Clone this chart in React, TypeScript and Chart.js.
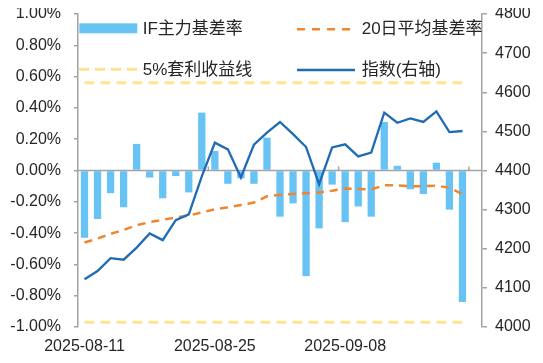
import React, { useEffect, useRef } from 'react';
import { Chart, registerables } from 'chart.js';

Chart.register(...registerables);

// ---- data ----
const dates = [
  '2025-08-11', '2025-08-12', '2025-08-13', '2025-08-14', '2025-08-15',
  '2025-08-18', '2025-08-19', '2025-08-20', '2025-08-21', '2025-08-22',
  '2025-08-25', '2025-08-26', '2025-08-27', '2025-08-28', '2025-08-29',
  '2025-09-01', '2025-09-02', '2025-09-03', '2025-09-04', '2025-09-05',
  '2025-09-08', '2025-09-09', '2025-09-10', '2025-09-11', '2025-09-12',
  '2025-09-15', '2025-09-16', '2025-09-17', '2025-09-18', '2025-09-19',
  '2025-09-22',
];

// IF主力基差率 (%)
const basisRate = [
  -0.43, -0.31, -0.145, -0.235, 0.17, -0.045, -0.178, -0.035, -0.14, 0.37,
  0.125, -0.085, -0.05, -0.085, 0.21, -0.295, -0.21, -0.675, -0.37, -0.09,
  -0.33, -0.23, -0.295, 0.31, 0.03, -0.12, -0.15, 0.05, -0.25, -0.84,
  null,
];

// 20日平均基差率 (%)
const avgBasis20 = [
  -0.46, -0.435, -0.405, -0.38, -0.35, -0.33, -0.315, -0.3, -0.288, -0.268,
  -0.248, -0.235, -0.22, -0.205, -0.165, -0.155, -0.15, -0.145, -0.14, -0.13,
  -0.115, -0.118, -0.12, -0.095, -0.095, -0.1, -0.1, -0.097, -0.11, -0.15,
  null,
];

// 指数(右轴)
const indexLevel = [
  4122, 4143, 4176, 4172, 4203, 4239, 4222, 4273, 4288, 4385,
  4471, 4454, 4382, 4466, 4497, 4524, 4493, 4460, 4365, 4459,
  4467, 4436, 4446, 4548, 4522, 4533, 4524, 4551, 4498, 4501,
  null,
];

// 5%套利收益线 (%)
const arbUpper = 0.56;
const arbLower = -0.97;

const leftMin = -1;
const leftMax = 1;
const leftStep = 0.2;
const rightMin = 4000;
const rightMax = 4800;
const rightStep = 100;
const labelEvery = 10;

const seriesNames = ['IF主力基差率', '20日平均基差率', '5%套利收益线', '指数(右轴)'];

// ---- styles ----
const FONT = "'Liberation Sans', 'Noto Sans CJK SC', Arial, sans-serif";
const TEXT = '#262626';
const AXIS = '#A3A3A3';
const BAR = '#68C3F5';
const ORANGE = '#EE8630';
const YELLOW = '#FFE391';
const BLUE = '#1F6BB4';

const dataCount = basisRate.filter((v) => v !== null).length;
const firstDate = dates[0];
const lastDataDate = dates[dataCount - 1];

const zeroLinePlugin = {
  id: 'zeroLine',
  beforeDatasetsDraw(chart: any) {
    const { ctx, chartArea, scales } = chart;
    const y0 = scales.y.getPixelForValue(0);
    const xs = scales.x;
    const cw = xs.getPixelForValue(1) - xs.getPixelForValue(0);
    ctx.save();
    ctx.strokeStyle = AXIS;
    ctx.lineWidth = 1.5;
    ctx.beginPath();
    ctx.moveTo(chartArea.left, y0);
    ctx.lineTo(chartArea.right, y0);
    for (let i = labelEvery; i < dates.length; i += labelEvery) {
      const bx = xs.getPixelForValue(i) - cw / 2;
      ctx.moveTo(bx, y0);
      ctx.lineTo(bx, y0 - 4);
    }
    ctx.stroke();
    ctx.restore();
  },
};

const legendPlugin = {
  id: 'cornerLegend',
  afterDraw(chart: any) {
    const { ctx, chartArea } = chart;
    const L = chartArea.left;
    const T = chartArea.top;
    ctx.save();
    ctx.font = `17px ${FONT}`;
    ctx.fillStyle = TEXT;
    ctx.textBaseline = 'middle';
    ctx.textAlign = 'left';

    // item 1: bar
    ctx.fillStyle = BAR;
    ctx.fillRect(L + 1.3, T + 9.3, 58, 10);
    ctx.fillStyle = TEXT;
    ctx.fillText(seriesNames[0], L + 64.7, T + 15.8);

    // item 2: orange dashed
    ctx.strokeStyle = ORANGE;
    ctx.lineWidth = 2.5;
    ctx.setLineDash([8, 7]);
    ctx.beginPath();
    ctx.moveTo(L + 219, T + 15.3);
    ctx.lineTo(L + 272, T + 15.3);
    ctx.stroke();
    ctx.fillText(seriesNames[1], L + 283.7, T + 15.8);

    // item 3: yellow dashed
    ctx.strokeStyle = YELLOW;
    ctx.lineWidth = 3;
    ctx.setLineDash([10, 6]);
    ctx.beginPath();
    ctx.moveTo(L + 1, T + 55.3);
    ctx.lineTo(L + 59, T + 55.3);
    ctx.stroke();
    ctx.fillText(seriesNames[2], L + 64.7, T + 56.3);

    // item 4: blue solid
    ctx.strokeStyle = BLUE;
    ctx.lineWidth = 2.5;
    ctx.setLineDash([]);
    ctx.beginPath();
    ctx.moveTo(L + 219, T + 56);
    ctx.lineTo(L + 277, T + 56);
    ctx.stroke();
    ctx.fillText(seriesNames[3], L + 283.7, T + 56.3);
    ctx.restore();
  },
};

export default function App() {
  const canvasRef = useRef<HTMLCanvasElement | null>(null);

  useEffect(() => {
    if (!canvasRef.current) return;
    Chart.defaults.font.family = FONT;
    Chart.defaults.font.size = 16;
    Chart.defaults.color = TEXT;

    const chart = new Chart(canvasRef.current, {
      type: 'bar',
      data: {
        labels: dates,
        datasets: [
          {
            type: 'line',
            label: seriesNames[3],
            data: indexLevel,
            yAxisID: 'y1',
            borderColor: BLUE,
            borderWidth: 2.3,
            pointRadius: 0,
            tension: 0,
            fill: false,
            order: 0,
          } as any,
          {
            type: 'line',
            label: seriesNames[1],
            data: avgBasis20,
            yAxisID: 'y',
            borderColor: ORANGE,
            borderWidth: 2.5,
            borderDash: [8, 6],
            pointRadius: 0,
            tension: 0,
            fill: false,
            order: 1,
          } as any,
          {
            type: 'line',
            label: seriesNames[2],
            data: [
              { x: firstDate, y: arbUpper },
              { x: lastDataDate, y: arbUpper },
            ],
            yAxisID: 'y',
            borderColor: YELLOW,
            borderWidth: 3,
            borderDash: [10, 6],
            pointRadius: 0,
            fill: false,
            order: 2,
          } as any,
          {
            type: 'line',
            label: seriesNames[2] + ' ',
            data: [
              { x: firstDate, y: arbLower },
              { x: lastDataDate, y: arbLower },
            ],
            yAxisID: 'y',
            borderColor: YELLOW,
            borderWidth: 3,
            borderDash: [10, 6],
            pointRadius: 0,
            fill: false,
            order: 2,
          } as any,
          {
            type: 'bar',
            label: seriesNames[0],
            data: basisRate,
            yAxisID: 'y',
            backgroundColor: BAR,
            borderWidth: 0,
            barPercentage: 0.56,
            categoryPercentage: 1,
            order: 3,
          } as any,
        ],
      },
      options: {
        animation: false,
        responsive: true,
        maintainAspectRatio: false,
        layout: { padding: { top: 6, left: 0, right: 0, bottom: 0 } },
        plugins: {
          legend: { display: false },
          tooltip: { enabled: false },
          title: { display: false },
        },
        scales: {
          x: {
            type: 'category',
            offset: true,
            grid: { display: false, drawTicks: false },
            border: { display: false },
            ticks: {
              autoSkip: false,
              maxRotation: 0,
              minRotation: 0,
              padding: 10,
              color: TEXT,
              font: { size: 16, family: FONT },
              callback: (_v: any, i: number) =>
                i % labelEvery === 0 && i < dataCount ? dates[i] : '',
            },
            afterFit: (s: any) => {
              s.height = 28;
              s.paddingLeft = 0;
              s.paddingRight = 0;
            },
          },
          y: {
            position: 'left',
            min: leftMin,
            max: leftMax,
            grid: {
              drawOnChartArea: false,
              drawTicks: true,
              tickLength: 4,
              color: AXIS,
              lineWidth: 1.5,
            },
            border: { display: true, color: AXIS, width: 1.5 },
            ticks: {
              stepSize: leftStep,
              padding: 13,
              color: TEXT,
              font: { size: 16, family: FONT },
              callback: (v: any) => {
                const n = Number(v);
                return (Math.abs(n) < 1e-9 ? 0 : n).toFixed(2) + '%';
              },
            },
            afterFit: (s: any) => {
              s.width = 70;
              s.paddingTop = 0;
              s.paddingBottom = 0;
            },
          },
          y1: {
            position: 'right',
            min: rightMin,
            max: rightMax,
            grid: {
              drawOnChartArea: false,
              drawTicks: true,
              tickLength: 5,
              color: AXIS,
              lineWidth: 1.5,
            },
            border: { display: true, color: AXIS, width: 1.5 },
            ticks: {
              stepSize: rightStep,
              padding: 8,
              color: TEXT,
              font: { size: 16, family: FONT },
              callback: (v: any) => String(v),
            },
            afterFit: (s: any) => {
              s.width = 53;
              s.paddingTop = 0;
              s.paddingBottom = 0;
            },
          },
        },
      },
      plugins: [zeroLinePlugin, legendPlugin],
    });

    return () => chart.destroy();
  }, []);

  return (
    <div style={{ width: 527, height: 347, position: 'relative' }}>
      <canvas ref={canvasRef} />
    </div>
  );
}
